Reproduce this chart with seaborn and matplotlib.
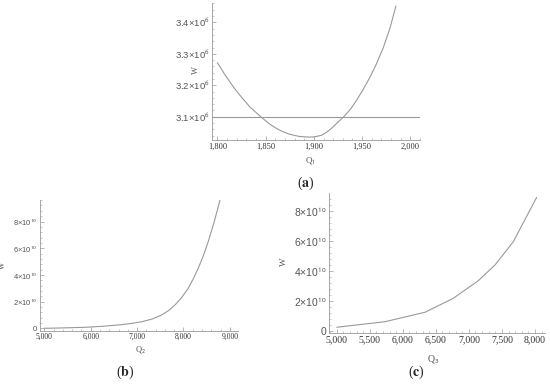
import numpy as np
import matplotlib
matplotlib.use('Agg')
import matplotlib.pyplot as plt
from matplotlib.ticker import MultipleLocator
import seaborn as sns

# (a) W against Q1, with the flat reference line
q1 = [1800, 1808, 1817, 1825, 1834, 1846, 1854, 1861, 1868, 1875, 1885, 1895, 1901,
      1908, 1913, 1918, 1923, 1931, 1938, 1944, 1951, 1958, 1965, 1972, 1979, 1985]
w1 = [3.272e6, 3.233e6, 3.193e6, 3.162e6, 3.130e6, 3.097e6, 3.077e6, 3.063e6, 3.052e6,
      3.044e6, 3.037e6, 3.035e6, 3.036e6, 3.041e6, 3.050e6, 3.062e6, 3.077e6, 3.100e6,
      3.124e6, 3.151e6, 3.186e6, 3.225e6, 3.269e6, 3.320e6, 3.383e6, 3.452e6]
w_ref = 3.1e6
a_xticks = [1800, 1850, 1900, 1950, 2000]
a_xlabels = ['1,800', '1,850', '1,900', '1,950', '2,000']
a_yticks = [3.1e6, 3.2e6, 3.3e6, 3.4e6]
a_ylabels = ['3.1×10$^{6}$', '3.2×10$^{6}$', '3.3×10$^{6}$', '3.4×10$^{6}$']

# (b) W against Q2
q2 = [5015, 5400, 5877, 6250, 6595, 6850, 7099, 7330, 7530, 7680, 7817, 7960, 8103,
      8210, 8319, 8430, 8534, 8660, 8787]
w2 = [0.0, 0.03e10, 0.075e10, 0.15e10, 0.25e10, 0.35e10, 0.49e10, 0.70e10, 1.0e10,
      1.33e10, 1.75e10, 2.3e10, 3.0e10, 3.7e10, 4.5e10, 5.45e10, 6.5e10, 7.95e10, 9.6e10]
b_xticks = [5000, 6000, 7000, 8000, 9000]
b_xlabels = ['5,000', '6,000', '7,000', '8,000', '9,000']
b_yticks = [0, 2e10, 4e10, 6e10, 8e10]
b_ylabels = ['0', '2×10$^{10}$', '4×10$^{10}$', '6×10$^{10}$', '8×10$^{10}$']

# (c) W against Q3
q3 = [5000, 5731, 6336, 6764, 7142, 7395, 7672, 8026]
w3 = [0.23e10, 0.60e10, 1.23e10, 2.16e10, 3.33e10, 4.38e10, 5.93e10, 8.89e10]
c_xticks = [5000, 5500, 6000, 6500, 7000, 7500, 8000]
c_xlabels = ['5,000', '5,500', '6,000', '6,500', '7,000', '7,500', '8,000']
c_yticks = [0, 2e10, 4e10, 6e10, 8e10]
c_ylabels = ['0', '2×10$^{10}$', '4×10$^{10}$', '6×10$^{10}$', '8×10$^{10}$']

sns.set_style('ticks')
plt.rcParams['font.family'] = ['Liberation Serif', 'DejaVu Serif']
plt.rcParams['mathtext.fontset'] = 'stixsans'

grey = '#999999'
txt = '#555555'
fig = plt.figure(figsize=(5.5, 3.84), dpi=100)


def style(ax, fsx, fsy, xminor, yminor):
    for s in ['top', 'right']:
        ax.spines[s].set_visible(False)
    for s in ['left', 'bottom']:
        ax.spines[s].set_color(grey)
        ax.spines[s].set_linewidth(0.6)
    ax.xaxis.set_minor_locator(MultipleLocator(xminor))
    ax.yaxis.set_minor_locator(MultipleLocator(yminor))
    ax.tick_params(which='major', direction='in', length=3, width=0.5,
                   color=grey, labelcolor=txt, pad=2)
    ax.tick_params(which='minor', direction='in', length=1.5, width=0.4, color=grey)
    for lab in ax.get_xticklabels():
        lab.set_fontsize(fsx)
        lab.set_color('#333333')
    for lab in ax.get_yticklabels():
        lab.set_fontsize(fsy)
        lab.set_family('Liberation Sans')


# panel a
ax = fig.add_axes([0.3855, 0.6354, 0.3782, 0.3568])
sns.lineplot(x=q1, y=w1, ax=ax, color=grey, lw=0.8)
ax.axhline(w_ref, color=grey, lw=0.8)
ax.set_xlim(1794.5, 2010)
ax.set_ylim(3.0258e6, 3.4616e6)
ax.set_xticks(a_xticks, a_xlabels)
ax.set_yticks(a_yticks, a_ylabels)
style(ax, 6, 6.8, 10, 0.02e6)
ax.set_xlabel('Q$_{1}$', fontsize=6.5, color=txt)
ax.set_ylabel('W', fontsize=6, color=txt)
ax.xaxis.set_label_coords(0.471, -0.11)
ax.yaxis.set_label_coords(-0.058, 0.51)

# panel b
ax = fig.add_axes([0.0727, 0.1393, 0.36, 0.3398])
sns.lineplot(x=q2, y=w2, ax=ax, color=grey, lw=0.8)
ax.set_xlim(4907, 9175)
ax.set_ylim(-0.165e10, 9.61e10)
ax.set_xticks(b_xticks, b_xlabels)
ax.set_yticks(b_yticks, b_ylabels)
style(ax, 5.5, 5.5, 200, 0.4e10)
ax.set_xlabel('Q$_{2}$', fontsize=6, color=txt)
ax.set_ylabel('W', fontsize=5.5, color=txt)
ax.xaxis.set_label_coords(0.505, -0.103)
ax.yaxis.set_label_coords(-0.168, 0.50)

# panel c
ax = fig.add_axes([0.5982, 0.1336, 0.3927, 0.3630])
sns.lineplot(x=q3, y=w3, ax=ax, color=grey, lw=0.8)
ax.set_xlim(4883, 8152)
ax.set_ylim(-0.133e10, 9.16e10)
ax.set_xticks(c_xticks, c_xlabels)
ax.set_yticks(c_yticks, c_ylabels)
style(ax, 7, 7.5, 100, 0.4e10)
ax.set_xlabel('Q$_{3}$', fontsize=7, color=txt)
ax.set_ylabel('W', fontsize=6.5, color=txt)
ax.xaxis.set_label_coords(0.48, -0.146)
ax.yaxis.set_label_coords(-0.19, 0.507)

for lbl, px, py in [('a', 306, 183), ('b', 125, 372), ('c', 416, 372)]:
    fig.text(px / 550, 1 - py / 384, '($\\mathbf{' + lbl + '}$)', ha='center', va='center',
             fontsize=10, family='Liberation Serif', math_fontfamily='stix')

fig.savefig('out.png', dpi=100)
